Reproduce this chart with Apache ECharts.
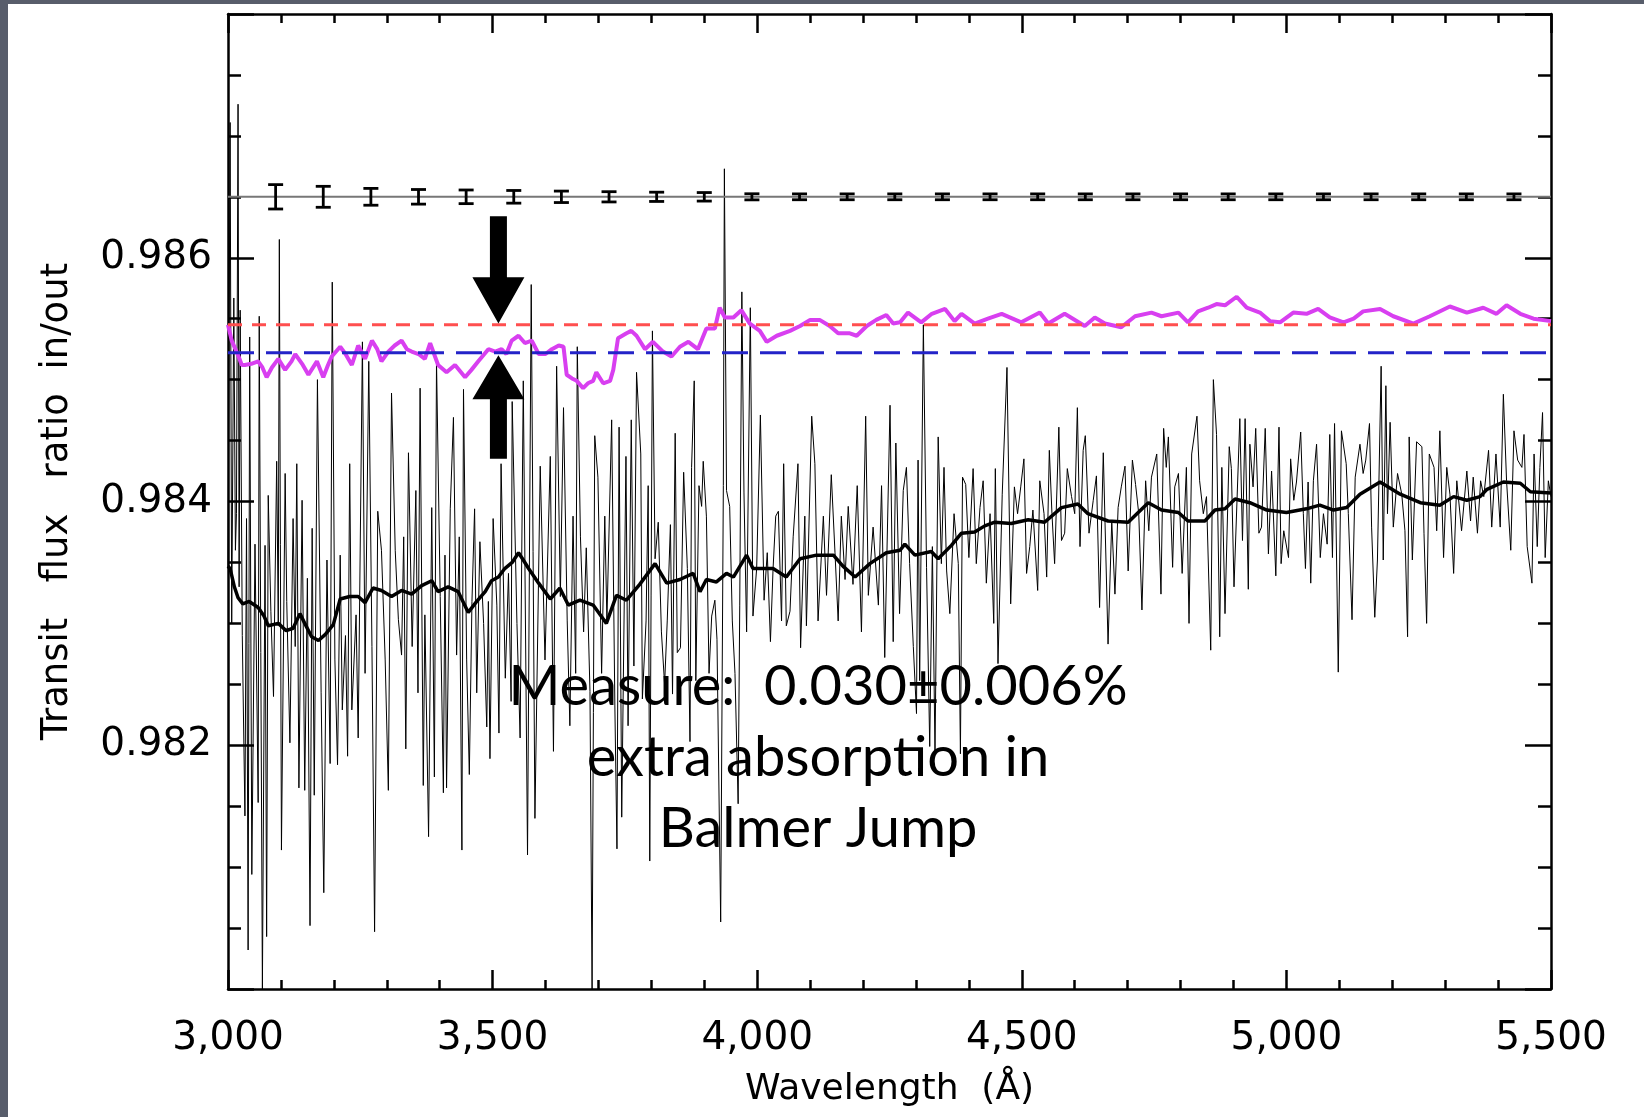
<!DOCTYPE html>
<html>
<head>
<meta charset="utf-8">
<title>Transit flux ratio in/out</title>
<script src="https://cdn.jsdelivr.net/npm/echarts@6.0.0/dist/echarts.min.js"></script>
<style>
    html, body { margin: 0; padding: 0; background: #585d6b; }
    #chart { position: absolute; left: 8px; top: 4px; width: 1636px; height: 1113px; background: #fff; }
</style>
</head>
<body>
<div id="chart"></div>
<script>
var xMin = 3000, xMax = 5500, xStep = 500;
var yMin = 0.980, yMax = 0.988, yStep = 0.002;

var errLevel = 0.9865;   // error bar reference line
var redLevel = 0.98545;  // red dashed
var blueLevel = 0.98522; // blue dashed

var errWave = [3090, 3180, 3270, 3360, 3450, 3540, 3630, 3720, 3810, 3900, 3990, 4080, 4170, 4260,
    4350, 4440, 4530, 4620, 4710, 4800, 4890, 4980, 5070, 5160, 5250, 5340, 5430];
var errHalf = [0.000100, 0.000086, 0.000069, 0.000060, 0.000056, 0.000052, 0.000047, 0.000042, 0.000038,
    0.000035, 0.000025, 0.000024, 0.000024, 0.000024, 0.000024, 0.000024, 0.000024, 0.000024, 0.000024,
    0.000024, 0.000024, 0.000024, 0.000024, 0.000024, 0.000024, 0.000024, 0.000024];

// [wavelength, tip, head base, tail]
var arrows = [
    [3511, 0.98546, 0.98584, 0.98634],
    [3511, 0.98520, 0.98484, 0.98435]
];

var noteLines = ['Measure:  0.030\u00b10.006%', 'extra absorption in', 'Balmer Jump'];

// raw in/out ratio (thin black)
var rawSpectrum = [
    [3000, 0.98345], [3004, 0.98711], [3007, 0.98300], [3011, 0.98567], [3014, 0.98360], [3016, 0.98390],
    [3019, 0.98726], [3021, 0.98330], [3023, 0.98557], [3027, 0.98290], [3032, 0.98142], [3035, 0.98386],
    [3038, 0.98032], [3041, 0.98535], [3045, 0.98094], [3051, 0.98365], [3057, 0.98153], [3059, 0.98552],
    [3065, 0.98000], [3070, 0.98364], [3073, 0.98043], [3076, 0.98405], [3081, 0.98310], [3086, 0.98240],
    [3092, 0.98433], [3095, 0.98300], [3097, 0.98615], [3101, 0.98114], [3108, 0.98423], [3111, 0.98318],
    [3117, 0.98202], [3123, 0.98386], [3127, 0.98281], [3130, 0.98431], [3134, 0.98165], [3140, 0.98401],
    [3145, 0.98163], [3150, 0.98337], [3155, 0.98052], [3159, 0.98378], [3163, 0.98159], [3169, 0.98500],
    [3176, 0.98243], [3181, 0.98079], [3187, 0.98352], [3193, 0.98185], [3197, 0.98580], [3202, 0.98270],
    [3207, 0.98184], [3212, 0.98356], [3216, 0.98229], [3222, 0.98290], [3226, 0.98191], [3230, 0.98431],
    [3234, 0.98229], [3242, 0.98307], [3246, 0.98206], [3254, 0.98531], [3259, 0.98259], [3266, 0.98515],
    [3272, 0.98281], [3277, 0.98047], [3283, 0.98392], [3290, 0.98360], [3297, 0.98270], [3303, 0.98163],
    [3309, 0.98489], [3316, 0.98360], [3322, 0.98303], [3328, 0.98274], [3332, 0.98371], [3336, 0.98197],
    [3341, 0.98440], [3348, 0.98281], [3355, 0.98409], [3359, 0.98243], [3363, 0.98493], [3369, 0.98167],
    [3372, 0.98307], [3379, 0.98125], [3385, 0.98395], [3390, 0.98174], [3394, 0.98515], [3401, 0.98322],
    [3407, 0.98161], [3410, 0.98356], [3413, 0.98165], [3420, 0.98394], [3426, 0.98469], [3432, 0.98274],
    [3437, 0.98371], [3442, 0.98114], [3445, 0.98492], [3451, 0.98270], [3456, 0.98176], [3461, 0.98318],
    [3466, 0.98394], [3470, 0.98243], [3476, 0.98367], [3483, 0.98300], [3489, 0.98215], [3492, 0.98318],
    [3495, 0.98189], [3501, 0.98386], [3508, 0.98315], [3512, 0.98210], [3516, 0.98431], [3524, 0.98255],
    [3530, 0.98341], [3535, 0.98236], [3537, 0.98482], [3546, 0.98300], [3552, 0.98206], [3558, 0.98499],
    [3566, 0.98110], [3573, 0.98578], [3580, 0.98140], [3590, 0.98429], [3599, 0.98270], [3609, 0.98437],
    [3615, 0.98195], [3621, 0.98511], [3628, 0.98322], [3634, 0.98477], [3641, 0.98302], [3646, 0.98216],
    [3652, 0.98388], [3657, 0.98259], [3660, 0.98527], [3666, 0.98371], [3672, 0.98293], [3677, 0.98362],
    [3684, 0.98244], [3688, 0.98000], [3693, 0.98454], [3699, 0.98420], [3706, 0.98259], [3712, 0.98388],
    [3716, 0.98302], [3725, 0.98467], [3731, 0.98233], [3735, 0.98115], [3739, 0.98461], [3744, 0.98141],
    [3752, 0.98437], [3756, 0.98216], [3762, 0.98467], [3767, 0.98265], [3772, 0.98506], [3780, 0.98439],
    [3783, 0.98238], [3790, 0.98302], [3794, 0.98413], [3797, 0.98105], [3802, 0.98540], [3807, 0.98353],
    [3813, 0.98383], [3819, 0.98293], [3825, 0.98250], [3830, 0.98302], [3836, 0.98381], [3840, 0.98242],
    [3845, 0.98456], [3849, 0.98276], [3855, 0.98280], [3861, 0.98424], [3868, 0.98345], [3873, 0.98203],
    [3876, 0.98428], [3881, 0.98499], [3884, 0.98253], [3890, 0.98413], [3895, 0.98396], [3898, 0.98433],
    [3904, 0.98388], [3909, 0.98259], [3914, 0.98306], [3920, 0.98319], [3924, 0.98287], [3931, 0.98055],
    [3936, 0.98413], [3938, 0.98673], [3942, 0.98409], [3948, 0.98396], [3953, 0.98302], [3958, 0.98259],
    [3964, 0.98152], [3967, 0.98315], [3971, 0.98572], [3975, 0.98407], [3980, 0.98293], [3987, 0.98559],
    [3992, 0.98306], [3999, 0.98345], [4006, 0.98471], [4013, 0.98319], [4019, 0.98358], [4025, 0.98285],
    [4030, 0.98345], [4035, 0.98388], [4040, 0.98392], [4046, 0.98302], [4050, 0.98431], [4055, 0.98298],
    [4062, 0.98310], [4068, 0.98371], [4077, 0.98431], [4082, 0.98280], [4090, 0.98388], [4093, 0.98298],
    [4103, 0.98470], [4109, 0.98431], [4115, 0.98302], [4125, 0.98388], [4131, 0.98323], [4140, 0.98422],
    [4147, 0.98358], [4153, 0.98302], [4159, 0.98388], [4166, 0.98336], [4172, 0.98396], [4181, 0.98332],
    [4189, 0.98413], [4197, 0.98293], [4205, 0.98470], [4210, 0.98323], [4219, 0.98379], [4229, 0.98315],
    [4235, 0.98413], [4241, 0.98272], [4251, 0.98479], [4257, 0.98285], [4262, 0.98448], [4269, 0.98308],
    [4276, 0.98409], [4282, 0.98428], [4288, 0.98349], [4295, 0.98281], [4301, 0.98226], [4304, 0.98434],
    [4307, 0.98253], [4314, 0.98545], [4320, 0.98346], [4326, 0.98199], [4331, 0.98363], [4336, 0.98193],
    [4342, 0.98453], [4348, 0.98349], [4353, 0.98428], [4358, 0.98343], [4364, 0.98308], [4372, 0.98390],
    [4380, 0.98349], [4384, 0.98193], [4388, 0.98420], [4394, 0.98414], [4400, 0.98354], [4408, 0.98427],
    [4414, 0.98349], [4421, 0.98395], [4427, 0.98417], [4433, 0.98333], [4440, 0.98390], [4447, 0.98300],
    [4450, 0.98427], [4455, 0.98267], [4463, 0.98406], [4472, 0.98510], [4479, 0.98316], [4486, 0.98412],
    [4492, 0.98390], [4498, 0.98412], [4504, 0.98435], [4509, 0.98341], [4515, 0.98363], [4521, 0.98393],
    [4530, 0.98327], [4534, 0.98417], [4542, 0.98390], [4547, 0.98338], [4552, 0.98442], [4557, 0.98390],
    [4562, 0.98349], [4570, 0.98461], [4575, 0.98368], [4581, 0.98374], [4586, 0.98427], [4594, 0.98404],
    [4600, 0.98390], [4605, 0.98477], [4610, 0.98363], [4616, 0.98442], [4620, 0.98454], [4627, 0.98374],
    [4635, 0.98401], [4641, 0.98421], [4647, 0.98313], [4654, 0.98440], [4663, 0.98283], [4670, 0.98384],
    [4676, 0.98324], [4682, 0.98395], [4688, 0.98412], [4695, 0.98429], [4701, 0.98343], [4709, 0.98434],
    [4715, 0.98414], [4721, 0.98390], [4727, 0.98311], [4734, 0.98417], [4740, 0.98376], [4745, 0.98420],
    [4755, 0.98439], [4763, 0.98324], [4768, 0.98460], [4773, 0.98428], [4777, 0.98453], [4785, 0.98346],
    [4789, 0.98412], [4796, 0.98423], [4803, 0.98341], [4811, 0.98428], [4816, 0.98300], [4821, 0.98439],
    [4831, 0.98470], [4836, 0.98417], [4843, 0.98390], [4849, 0.98404], [4857, 0.98278], [4862, 0.98500],
    [4868, 0.98455], [4874, 0.98289], [4878, 0.98428], [4884, 0.98308], [4892, 0.98445], [4896, 0.98427],
    [4901, 0.98330], [4912, 0.98468], [4917, 0.98368], [4922, 0.98468], [4928, 0.98328], [4931, 0.98447],
    [4937, 0.98412], [4942, 0.98460], [4948, 0.98374], [4953, 0.98379], [4960, 0.98460], [4966, 0.98357],
    [4972, 0.98425], [4980, 0.98339], [4986, 0.98461], [4990, 0.98349], [4995, 0.98376], [5004, 0.98354],
    [5008, 0.98435], [5014, 0.98401], [5019, 0.98416], [5027, 0.98457], [5032, 0.98390], [5036, 0.98345],
    [5041, 0.98416], [5046, 0.98333], [5051, 0.98417], [5057, 0.98447], [5064, 0.98354], [5070, 0.98390],
    [5077, 0.98365], [5082, 0.98455], [5087, 0.98354], [5091, 0.98464], [5098, 0.98260], [5104, 0.98458],
    [5113, 0.98431], [5117, 0.98390], [5124, 0.98303], [5130, 0.98420], [5139, 0.98447], [5145, 0.98423],
    [5150, 0.98434], [5157, 0.98464], [5161, 0.98379], [5167, 0.98305], [5172, 0.98352], [5179, 0.98511],
    [5183, 0.98352], [5188, 0.98495], [5191, 0.98390], [5196, 0.98465], [5202, 0.98379], [5210, 0.98423],
    [5218, 0.98406], [5224, 0.98376], [5229, 0.98289], [5232, 0.98453], [5238, 0.98352], [5246, 0.98449],
    [5256, 0.98445], [5260, 0.98374], [5265, 0.98300], [5270, 0.98439], [5279, 0.98428], [5284, 0.98376],
    [5290, 0.98458], [5297, 0.98354], [5303, 0.98428], [5309, 0.98406], [5316, 0.98341], [5322, 0.98417],
    [5331, 0.98376], [5341, 0.98425], [5348, 0.98384], [5353, 0.98420], [5361, 0.98374], [5367, 0.98417],
    [5373, 0.98404], [5382, 0.98442], [5388, 0.98379], [5396, 0.98439], [5404, 0.98379], [5410, 0.98488],
    [5416, 0.98417], [5424, 0.98360], [5430, 0.98458], [5437, 0.98434], [5445, 0.98428], [5449, 0.98455],
    [5455, 0.98363], [5464, 0.98333], [5468, 0.98439], [5474, 0.98363], [5479, 0.98428], [5484, 0.98473],
    [5489, 0.98354], [5495, 0.98417], [5500, 0.98404]
];

// smoothed ratio (thick black)
var smoothSpectrum = [
    [3000, 0.98347], [3004, 0.98345], [3012, 0.98330], [3019, 0.98321], [3028, 0.98316], [3040, 0.98318],
    [3057, 0.98313], [3068, 0.98306], [3076, 0.98298], [3095, 0.98300], [3110, 0.98294], [3123, 0.98296],
    [3136, 0.98308], [3145, 0.98300], [3158, 0.98289], [3171, 0.98286], [3184, 0.98291], [3199, 0.98299],
    [3212, 0.98320], [3230, 0.98322], [3246, 0.98322], [3259, 0.98317], [3274, 0.98329], [3290, 0.98327],
    [3309, 0.98322], [3328, 0.98327], [3347, 0.98324], [3366, 0.98331], [3385, 0.98335], [3397, 0.98326],
    [3416, 0.98330], [3435, 0.98326], [3454, 0.98309], [3470, 0.98318], [3486, 0.98326], [3498, 0.98335],
    [3511, 0.98338], [3523, 0.98345], [3537, 0.98350], [3549, 0.98358], [3558, 0.98352], [3568, 0.98345],
    [3587, 0.98333], [3609, 0.98320], [3627, 0.98329], [3643, 0.98315], [3665, 0.98319], [3690, 0.98315],
    [3705, 0.98306], [3715, 0.98300], [3734, 0.98323], [3753, 0.98319], [3778, 0.98332], [3807, 0.98349],
    [3829, 0.98333], [3854, 0.98336], [3879, 0.98341], [3892, 0.98326], [3904, 0.98336], [3923, 0.98334],
    [3942, 0.98341], [3955, 0.98338], [3980, 0.98356], [3992, 0.98345], [4010, 0.98345], [4030, 0.98345],
    [4055, 0.98338], [4081, 0.98353], [4112, 0.98356], [4144, 0.98356], [4162, 0.98347], [4185, 0.98338],
    [4213, 0.98349], [4244, 0.98358], [4270, 0.98360], [4279, 0.98365], [4298, 0.98356], [4329, 0.98359],
    [4342, 0.98353], [4367, 0.98364], [4386, 0.98374], [4411, 0.98375], [4430, 0.98380], [4449, 0.98383],
    [4480, 0.98382], [4512, 0.98385], [4543, 0.98383], [4575, 0.98395], [4606, 0.98398], [4625, 0.98390],
    [4663, 0.98384], [4701, 0.98383], [4739, 0.98399], [4764, 0.98393], [4796, 0.98391], [4814, 0.98384],
    [4846, 0.98384], [4865, 0.98393], [4884, 0.98394], [4903, 0.98402], [4931, 0.98399], [4963, 0.98393],
    [5000, 0.98391], [5038, 0.98394], [5063, 0.98397], [5089, 0.98393], [5114, 0.98395], [5139, 0.98406],
    [5177, 0.98416], [5215, 0.98406], [5253, 0.98399], [5290, 0.98397], [5316, 0.98404], [5341, 0.98401],
    [5366, 0.98404], [5379, 0.98410], [5410, 0.98416], [5442, 0.98415], [5461, 0.98408], [5500, 0.98407]
];

// magenta curve
var pinkSpectrum = [
    [3000, 0.98545], [3007, 0.98532], [3020, 0.98519], [3026, 0.98512], [3032, 0.98512], [3044, 0.98513],
    [3057, 0.98515], [3065, 0.98510], [3073, 0.98502], [3083, 0.98510], [3095, 0.98517], [3108, 0.98508],
    [3120, 0.98515], [3127, 0.98521], [3140, 0.98513], [3152, 0.98504], [3168, 0.98515], [3180, 0.98502],
    [3189, 0.98512], [3196, 0.98519], [3212, 0.98527], [3222, 0.98521], [3234, 0.98512], [3246, 0.98528],
    [3259, 0.98517], [3272, 0.98532], [3282, 0.98525], [3290, 0.98515], [3303, 0.98523], [3315, 0.98528],
    [3328, 0.98532], [3338, 0.98525], [3347, 0.98523], [3360, 0.98521], [3372, 0.98517], [3382, 0.98530],
    [3397, 0.98512], [3413, 0.98506], [3429, 0.98512], [3448, 0.98502], [3460, 0.98508], [3473, 0.98515],
    [3492, 0.98525], [3505, 0.98523], [3517, 0.98525], [3526, 0.98521], [3536, 0.98532], [3549, 0.98536],
    [3561, 0.98530], [3574, 0.98532], [3587, 0.98521], [3600, 0.98521], [3612, 0.98525], [3625, 0.98528],
    [3634, 0.98527], [3640, 0.98504], [3650, 0.98501], [3659, 0.98499], [3671, 0.98493], [3680, 0.98497],
    [3690, 0.98499], [3696, 0.98506], [3709, 0.98497], [3722, 0.98499], [3728, 0.98508], [3737, 0.98534],
    [3753, 0.98538], [3762, 0.98540], [3772, 0.98536], [3788, 0.98525], [3803, 0.98531], [3822, 0.98523],
    [3838, 0.98519], [3854, 0.98527], [3870, 0.98531], [3888, 0.98525], [3904, 0.98542], [3920, 0.98542],
    [3929, 0.98559], [3939, 0.98551], [3955, 0.98551], [3970, 0.98557], [3986, 0.98546], [4005, 0.98540],
    [4018, 0.98531], [4037, 0.98536], [4062, 0.98540], [4081, 0.98544], [4100, 0.98549], [4118, 0.98549],
    [4137, 0.98544], [4153, 0.98538], [4175, 0.98538], [4188, 0.98536], [4207, 0.98544], [4225, 0.98549],
    [4244, 0.98553], [4257, 0.98546], [4270, 0.98547], [4285, 0.98555], [4310, 0.98547], [4330, 0.98554],
    [4355, 0.98558], [4373, 0.98548], [4386, 0.98554], [4411, 0.98546], [4436, 0.98550], [4462, 0.98554],
    [4499, 0.98547], [4534, 0.98555], [4550, 0.98546], [4581, 0.98554], [4619, 0.98544], [4638, 0.98551],
    [4657, 0.98546], [4688, 0.98543], [4714, 0.98552], [4745, 0.98555], [4764, 0.98552], [4796, 0.98555],
    [4814, 0.98547], [4833, 0.98556], [4852, 0.98559], [4868, 0.98562], [4884, 0.98561], [4906, 0.98568],
    [4925, 0.98559], [4950, 0.98555], [4969, 0.98548], [4988, 0.98547], [5013, 0.98555], [5038, 0.98554],
    [5060, 0.98558], [5082, 0.98551], [5108, 0.98547], [5127, 0.98550], [5145, 0.98556], [5177, 0.98558],
    [5202, 0.98552], [5240, 0.98546], [5271, 0.98552], [5309, 0.98560], [5341, 0.98555], [5372, 0.98559],
    [5397, 0.98554], [5416, 0.98561], [5442, 0.98554], [5467, 0.98550], [5500, 0.98548]
];

var axisFont = 'DejaVu Sans';
var black = '#000';

function withComma(v) {
    return String(v).replace(/\B(?=(\d{3})+(?!\d))/g, ',');
}

function renderErr(params, api) {
    var x = api.value(0);
    var y = api.value(1);
    var e = api.value(2);
    var top = api.coord([x, y + e]);
    var bot = api.coord([x, y - e]);
    var w = 7.5;
    var st = { stroke: black, lineWidth: 2.8 };
    return {
        type: 'group',
        children: [
            { type: 'line', shape: { x1: top[0], y1: top[1], x2: bot[0], y2: bot[1] }, style: st },
            { type: 'line', shape: { x1: top[0] - w, y1: top[1], x2: top[0] + w, y2: top[1] }, style: st },
            { type: 'line', shape: { x1: bot[0] - w, y1: bot[1], x2: bot[0] + w, y2: bot[1] }, style: st }
        ]
    };
}

function renderArrow(params, api) {
    var tip = api.coord([api.value(0), api.value(1)]);
    var base = api.coord([api.value(0), api.value(2)]);
    var tail = api.coord([api.value(0), api.value(3)]);
    var x = tip[0];
    var sw = 8.5, hw = 26;
    return {
        type: 'polygon',
        shape: {
            points: [
                [x - sw, tail[1]], [x - sw, base[1]], [x - hw, base[1]], [x, tip[1]],
                [x + hw, base[1]], [x + sw, base[1]], [x + sw, tail[1]]
            ]
        },
        style: { fill: black }
    };
}

var xAxisBase = {
    type: 'value',
    min: xMin,
    max: xMax,
    interval: xStep,
    axisLine: { onZero: false, lineStyle: { color: black, width: 2.5 } },
    axisTick: { inside: true, length: 19, lineStyle: { color: black, width: 2.5 } },
    minorTick: { show: true, splitNumber: 5, length: 9, lineStyle: { color: black, width: 2.5 } },
    splitLine: { show: false }
};

var yAxisBase = {
    type: 'value',
    min: yMin,
    max: yMax,
    interval: yStep,
    axisLine: { onZero: false, lineStyle: { color: black, width: 2.5 } },
    axisTick: { inside: true, length: 26, lineStyle: { color: black, width: 2.5 } },
    minorTick: { show: true, splitNumber: 4, length: 13, lineStyle: { color: black, width: 2.5 } },
    splitLine: { show: false }
};

var option = {
    animation: false,
    grid: { left: 220, top: 10, right: 93, bottom: 128 },
    xAxis: [
        Object.assign({}, xAxisBase, {
            position: 'bottom',
            name: 'Wavelength  (\u00c5)',
            nameLocation: 'middle',
            nameGap: 83,
            nameTextStyle: { fontFamily: axisFont, fontSize: 36, color: black },
            axisLabel: {
                margin: 30,
                fontFamily: axisFont,
                fontSize: 39,
                color: black,
                showMinLabel: true,
                showMaxLabel: true,
                formatter: withComma
            }
        }),
        Object.assign({}, xAxisBase, { position: 'top', axisLabel: { show: false } })
    ],
    yAxis: [
        Object.assign({}, yAxisBase, {
            position: 'left',
            name: 'Transit   flux   ratio  in/out',
            nameLocation: 'middle',
            nameRotate: 90,
            nameGap: 152,
            nameTextStyle: { fontFamily: axisFont, fontSize: 37, color: black },
            axisLabel: {
                margin: 16,
                fontFamily: axisFont,
                fontSize: 39,
                color: black,
                showMinLabel: false,
                showMaxLabel: false,
                formatter: function (v) { return v.toFixed(3); }
            }
        }),
        Object.assign({}, yAxisBase, { position: 'right', axisLabel: { show: false } })
    ],
    graphic: noteLines.map(function (t, i) {
        return {
            type: 'text',
            x: 810,
            y: 683 + i * 71,
            z: 100,
            style: {
                text: t,
                fill: black,
                fontFamily: 'Lato',
                fontSize: 56,
                align: 'center',
                verticalAlign: 'middle'
            }
        };
    }),
    series: [
        {
            type: 'line',
            data: rawSpectrum,
            symbol: 'none',
            lineStyle: { color: black, width: 1 },
            z: 2
        },
        {
            type: 'line',
            data: smoothSpectrum,
            symbol: 'none',
            lineStyle: { color: black, width: 3.5 },
            z: 3
        },
        {
            type: 'line',
            data: [[xMin, errLevel], [xMax, errLevel]],
            symbol: 'none',
            lineStyle: { color: '#777', width: 2 },
            z: 3
        },
        {
            type: 'custom',
            renderItem: renderErr,
            data: errWave.map(function (w, i) { return [w, errLevel, errHalf[i]]; }),
            encode: { x: 0, y: 1 },
            z: 4
        },
        {
            type: 'line',
            data: pinkSpectrum,
            symbol: 'none',
            lineStyle: { color: '#d83ff0', width: 4 },
            z: 5
        },
        {
            type: 'line',
            data: [[xMin, redLevel], [xMax, redLevel]],
            symbol: 'none',
            lineStyle: { color: '#ff4f4f', width: 3, type: [14, 10] },
            z: 6
        },
        {
            type: 'line',
            data: [[xMin, blueLevel], [xMax, blueLevel]],
            symbol: 'none',
            lineStyle: { color: '#2323c8', width: 3, type: [26, 12] },
            z: 6
        },
        {
            type: 'custom',
            renderItem: renderArrow,
            data: arrows,
            encode: { x: 0, y: [1, 2, 3] },
            z: 7
        }
    ]
};

echarts.init(document.getElementById('chart')).setOption(option);
</script>
</body>
</html>
